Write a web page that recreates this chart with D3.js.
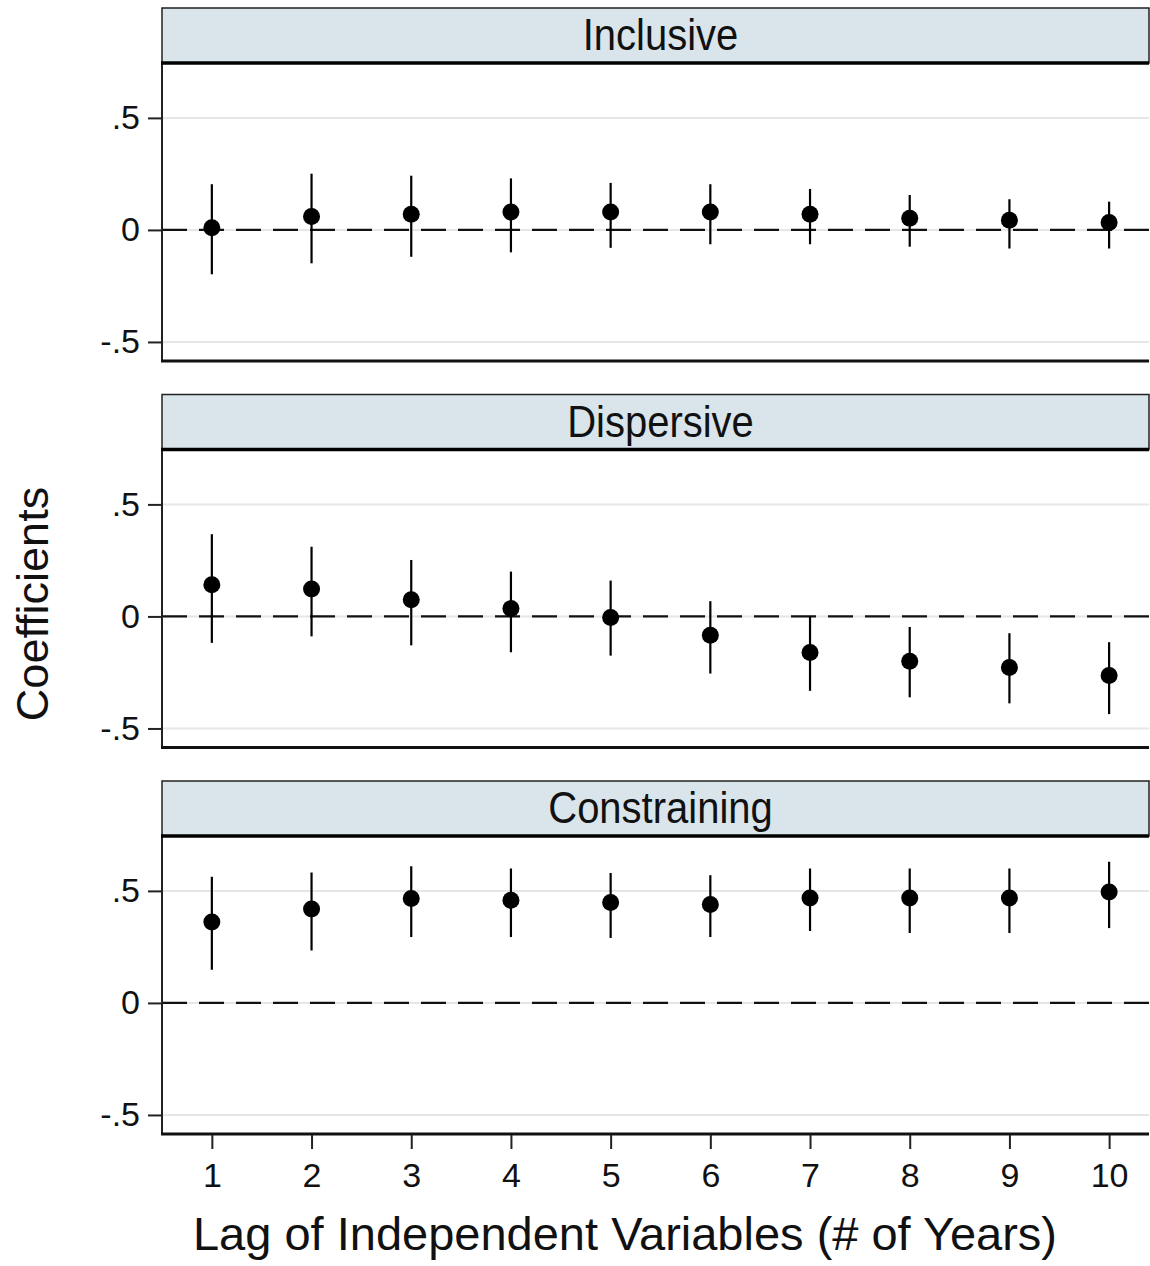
<!DOCTYPE html>
<html lang="en">
  <head>
    <meta charset="utf-8" />
    <title>Coefficients by lag</title>
    <style>
      body { margin: 0; background: #fff; }
      text { font-family: "Liberation Sans", Arial, sans-serif; fill: #111; }
    </style>
  </head>
  <body>
    <svg id="viz"></svg>
    <script src="https://d3js.org/d3.v7.min.js"></script>
    <script>
        // data
        var lags = [1, 2, 3, 4, 5, 6, 7, 8, 9, 10];
        var panels = ["Inclusive", "Dispersive", "Constraining"];

        var inclusiveCoef = [0.01, 0.06, 0.07, 0.08, 0.08, 0.08, 0.07, 0.052, 0.043, 0.033];
        var inclusiveLo   = [-0.198, -0.149, -0.12, -0.10, -0.08, -0.064, -0.064, -0.075, -0.083, -0.083];
        var inclusiveHi   = [0.204, 0.251, 0.242, 0.23, 0.21, 0.204, 0.183, 0.156, 0.137, 0.126];

        var dispersiveCoef = [0.141, 0.122, 0.074, 0.035, -0.005, -0.084, -0.161, -0.20, -0.228, -0.264];
        var dispersiveLo   = [-0.118, -0.089, -0.129, -0.16, -0.175, -0.255, -0.332, -0.361, -0.388, -0.436];
        var dispersiveHi   = [0.367, 0.311, 0.252, 0.20, 0.16, 0.068, 0.0, -0.047, -0.075, -0.115];

        var constrainingCoef = [0.361, 0.419, 0.466, 0.458, 0.448, 0.439, 0.468, 0.468, 0.468, 0.495];
        var constrainingLo   = [0.148, 0.234, 0.294, 0.294, 0.29, 0.294, 0.321, 0.312, 0.312, 0.334];
        var constrainingHi   = [0.563, 0.582, 0.61, 0.60, 0.58, 0.57, 0.60, 0.60, 0.60, 0.63];

        var yTicks = [-0.5, 0, 0.5];
        var yTickLabels = ["-.5", "0", ".5"];

        var series = [
            {coef: inclusiveCoef, lo: inclusiveLo, hi: inclusiveHi},
            {coef: dispersiveCoef, lo: dispersiveLo, hi: dispersiveHi},
            {coef: constrainingCoef, lo: constrainingLo, hi: constrainingHi}
        ];

        var width = 1150, height = 1266;
        var left = 162, right = 1149;
        var firstTop = 8, panelStep = 386.5, stripH = 55, plotH = 298;

        var svg = d3.select("#viz").attr("width", width).attr("height", height);

        var x = d3.scaleLinear().domain([0.5, 10.4]).range([left, right]);

        panels.forEach(function(name, i) {
            var s = series[i];
            var stripTop = firstTop + i * panelStep;
            var plotTop = stripTop + stripH;
            var plotBottom = plotTop + plotH;
            var y = d3.scaleLinear().domain([-0.585, 0.745]).range([plotBottom, plotTop]);

            var g = svg.append("g");

            // strip
            g.append("rect")
                .attr("x", left).attr("y", stripTop)
                .attr("width", right - left).attr("height", stripH)
                .attr("fill", "#d9e5eb")
                .attr("stroke", "#222").attr("stroke-width", 1.5);
            g.append("text")
                .attr("transform", "translate(" + ((left + right) / 2 + 5) + "," + (stripTop + 42) + ") scale(1,1.1)")
                .attr("text-anchor", "middle")
                .style("font-size", "40px")
                .text(name);

            // grid lines
            g.selectAll(".grid")
                .data(yTicks)
                .enter()
                .append("line")
                .attr("x1", left).attr("x2", right)
                .attr("y1", function(d) { return y(d); })
                .attr("y2", function(d) { return y(d); })
                .attr("stroke", "#e6e6e6").attr("stroke-width", 2);

            // zero reference
            g.append("line")
                .attr("x1", left).attr("x2", right)
                .attr("y1", y(0)).attr("y2", y(0))
                .attr("stroke", "#111").attr("stroke-width", 2.4)
                .attr("stroke-dasharray", "25,12");

            // y axis
            var yAxis = d3.axisLeft(y)
                .tickValues(yTicks)
                .tickSize(14)
                .tickPadding(8)
                .tickFormat(function(d, j) { return yTickLabels[j]; });
            var ya = g.append("g").attr("transform", "translate(" + left + ",0)").call(yAxis);
            ya.select(".domain").remove();
            ya.selectAll(".tick line").attr("stroke", "#222").attr("stroke-width", 2);
            ya.selectAll(".tick text")
                .style("font-size", "34px")
                .style("font-family", "'Liberation Sans', Arial, sans-serif")
                .attr("fill", "#111");
            g.append("line")
                .attr("x1", left).attr("x2", left)
                .attr("y1", plotTop).attr("y2", plotBottom + 1)
                .attr("stroke", "#222").attr("stroke-width", 2);

            // plot top and bottom borders
            g.append("line")
                .attr("x1", left - 1).attr("x2", right)
                .attr("y1", plotTop).attr("y2", plotTop)
                .attr("stroke", "#000").attr("stroke-width", 3.5);
            g.append("line")
                .attr("x1", left - 1).attr("x2", right)
                .attr("y1", plotBottom).attr("y2", plotBottom)
                .attr("stroke", "#111").attr("stroke-width", 3);

            // error bars
            g.selectAll(".ci")
                .data(lags)
                .enter()
                .append("line")
                .attr("x1", function(d) { return x(d); })
                .attr("x2", function(d) { return x(d); })
                .attr("y1", function(d, j) { return y(s.lo[j]); })
                .attr("y2", function(d, j) { return y(s.hi[j]); })
                .attr("stroke", "#000").attr("stroke-width", 2.2);

            // point estimates
            g.selectAll(".pt")
                .data(lags)
                .enter()
                .append("circle")
                .attr("cx", function(d) { return x(d); })
                .attr("cy", function(d, j) { return y(s.coef[j]); })
                .attr("r", 8.5)
                .attr("fill", "#000");

            // x axis on bottom panel only
            if (i === panels.length - 1) {
                var xAxis = d3.axisBottom(x).tickValues(lags).tickSize(14).tickPadding(14).tickFormat(d3.format("d"));
                var xa = g.append("g").attr("transform", "translate(0," + (plotBottom + 1) + ")").call(xAxis);
                xa.select(".domain").remove();
                xa.selectAll(".tick line").attr("stroke", "#222").attr("stroke-width", 2);
                xa.selectAll(".tick text")
                    .style("font-size", "34px")
                    .style("font-family", "'Liberation Sans', Arial, sans-serif")
                    .attr("fill", "#111");
            }
        });

        // axis titles
        svg.append("text")
            .attr("x", 625)
            .attr("y", 1250)
            .attr("text-anchor", "middle")
            .style("font-size", "47px")
            .text("Lag of Independent Variables (# of Years)");

        svg.append("text")
            .attr("transform", "translate(48,604) rotate(-90)")
            .attr("text-anchor", "middle")
            .style("font-size", "45px")
            .text("Coefficients");
    </script>
  </body>
</html>
